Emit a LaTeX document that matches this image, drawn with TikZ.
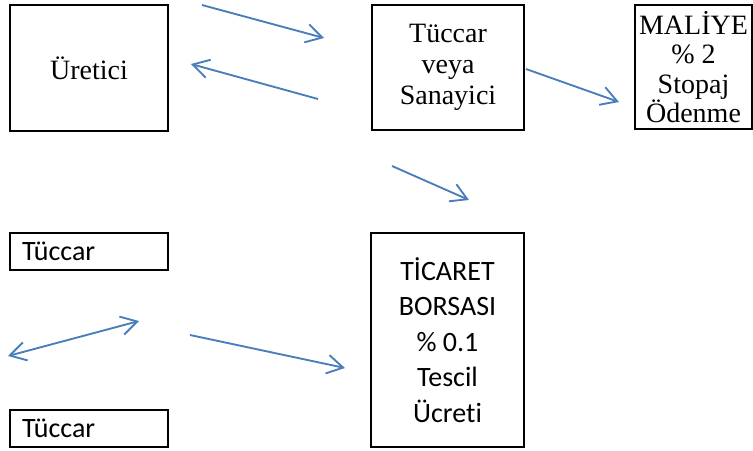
\documentclass[tikz,border=0pt]{standalone}
\usepackage{fontspec}
\setmainfont{Liberation Serif}
\newfontfamily\calibri[Ligatures=NoCommon]{Carlito}
\usepackage{xcolor}
\usetikzlibrary{arrows.meta}
\definecolor{flowblue}{RGB}{74,126,187}

\begin{document}
\begin{tikzpicture}[x=0.75pt,y=-0.75pt,
	box/.style={draw,line width=2.2pt,inner sep=0pt,align=center},
	rm/.style={font=\fontsize{21}{23.5}\selectfont},
	sf/.style={font=\calibri\fontsize{21}{26.6}\selectfont},
	smallbox/.style={box,sf,minimum height=27.75pt,text width=100.5pt,inner xsep=9pt,align=left},
	>={Straight Barb[length=12pt,width=14pt]}]
	\useasboundingbox (0,0) rectangle (753,450);
	%
	\node[box,rm,minimum width=118.5pt,minimum height=94.5pt] (U) at (89,68) {Üretici};
	\node[box,rm,minimum width=114pt,minimum height=93.75pt] (T) at (448,67.5) {Tüccar\\veya\\Sanayici};
	\node[box,font=\fontsize{21}{22}\selectfont,minimum width=87.75pt,minimum height=93pt] (M) at (693.5,67) {MALİYE\\\% 2\\Stopaj\\Ödenme};
	\node[box,sf,minimum width=114.75pt,minimum height=160.5pt] (B) at (447.5,340) {TİCARET\\BORSASI\\\% 0.1\\Tescil\\Ücreti};
	\node[smallbox] (T1) at (89,251.5) {Tüccar};
	\node[smallbox] (T2) at (89,428.5) {Tüccar};
	%
	\coordinate (a1) at (202,5);   \coordinate (b1) at (324,38);
	\coordinate (a2) at (318,99);  \coordinate (b2) at (191,64);
	\coordinate (a3) at (526,69);  \coordinate (b3) at (619,102);
	\coordinate (a4) at (392,166); \coordinate (b4) at (469,200);
	\coordinate (a5) at (8,356);   \coordinate (b5) at (139,321);
	\coordinate (a6) at (190,335); \coordinate (b6) at (345,368);
	%
	\path[->,flowblue,line width=1.4pt]
	(a1) edge (b1)
	(a2) edge (b2)
	(a3) edge (b3)
	(a4) edge (b4)
	(a5) edge[<->] (b5)
	(a6) edge (b6);
\end{tikzpicture}
\end{document}
